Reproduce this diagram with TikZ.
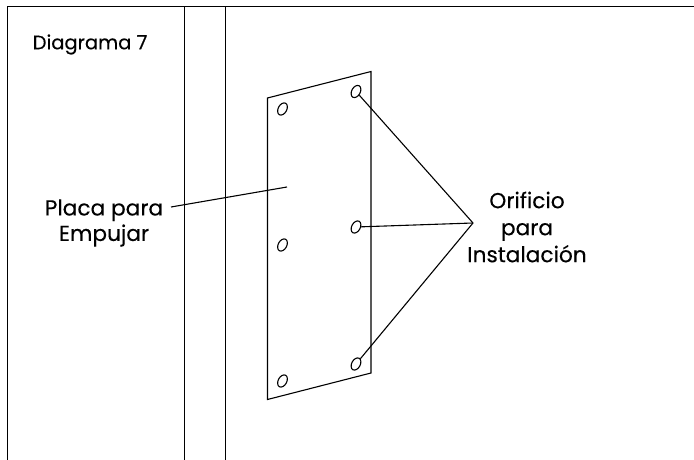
\documentclass[tikz,border=0pt]{standalone}
\usepackage{fontspec}
\setmainfont{Poppins}[FakeBold=0.3]
\usetikzlibrary{shapes.geometric}
\tikzset{
  outline/.style={draw=black,line width=1pt,line join=miter},
  leader/.style={draw=black,line width=1.1pt},
  hole/.style={ellipse,draw=black,line width=1.1pt,minimum width=8.6pt,minimum height=13pt,inner sep=0pt,rotate=-28},
  biglabel/.style={font=\fontsize{21.7}{25.5}\selectfont,align=center,inner sep=0pt,text=black},
  orlabel/.style={font=\fontsize{21.7}{27}\selectfont,align=center,inner sep=0pt,text=black},
  titlelabel/.style={font=\fontsize{19.5}{24}\selectfont,inner sep=0pt,text=black}
}
\begin{document}
\begin{tikzpicture}[x=1pt,y=-1pt]
\useasboundingbox (0,0) rectangle (694,460);
\draw[outline] (7.5,460) -- (7.5,7) -- (694,7);
\draw[outline] (184.5,7) -- (184.5,460);
\draw[outline] (225.8,7) -- (225.8,460);
\draw[outline,line width=1.1pt] (267.5,98) -- (371,71.5) -- (371,373) -- (267.5,399.5) -- cycle;
\node[hole] (h1) at (282.5,109) {};
\node[hole] (h2) at (356,91.5) {};
\node[hole] (h3) at (282.5,245) {};
\node[hole] (h4) at (356,227) {};
\node[hole] (h5) at (282.5,381) {};
\node[hole] (h6) at (356,364) {};
\coordinate (apex) at (473,223);
\coordinate (pl) at (287,187);
\node[titlelabel] (title) at (90,44.5) {Diagrama 7};
\node[biglabel] (placa) at (104,223) {Placa para\\Empujar};
\node[orlabel] (orif) at (527,227) {Orificio\\para\\Instalación};
\coordinate (pe) at (171,207);
\draw[leader] (pe) -- (pl);
\draw[leader] (h2) -- (apex);
\draw[leader] (h4) -- (apex);
\draw[leader] (h6) -- (apex);
\end{tikzpicture}
\end{document}
